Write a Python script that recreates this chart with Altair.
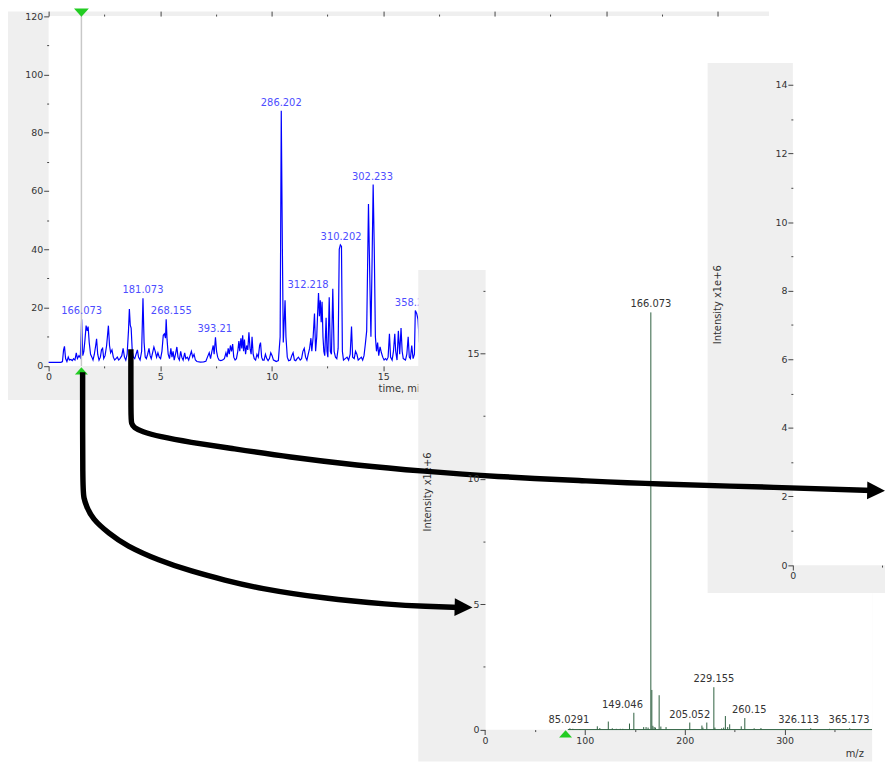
import altair as alt
import pandas as pd

# ---------------- data: chromatogram (top panel) ----------------
chrom_time = [0.0, 0.55, 0.62, 0.67, 0.71, 0.76, 0.82, 0.88, 0.93, 1.0, 1.06, 1.12, 1.18, 1.24, 1.29,
              1.36, 1.42, 1.48, 1.53, 1.58, 1.63, 1.68, 1.73, 1.77, 1.82, 1.88, 1.94, 1.99, 2.05, 2.11,
              2.15, 2.2, 2.26, 2.32, 2.37, 2.42, 2.47, 2.53, 2.6, 2.68, 2.73, 2.78, 2.84, 2.9, 2.96,
              3.02, 3.08, 3.14, 3.2, 3.28, 3.34, 3.4, 3.46, 3.52, 3.58, 3.62, 3.66, 3.7, 3.75, 3.8,
              3.86, 3.92, 3.98, 4.03, 4.1, 4.17, 4.23, 4.28, 4.33, 4.38, 4.44, 4.5, 4.55, 4.6, 4.66,
              4.72, 4.78, 4.84, 4.9, 4.96, 5.02, 5.08, 5.14, 5.19, 5.24, 5.27, 5.31, 5.36, 5.42, 5.48,
              5.53, 5.58, 5.63, 5.7, 5.75, 5.8, 5.86, 5.92, 5.97, 6.03, 6.1, 6.15, 6.22, 6.28, 6.34,
              6.4, 6.46, 6.52, 6.58, 6.65, 6.8, 6.95, 7.05, 7.12, 7.2, 7.26, 7.32, 7.38, 7.42, 7.48,
              7.53, 7.58, 7.64, 7.72, 7.8, 7.88, 7.95, 8.0, 8.05, 8.1, 8.15, 8.2, 8.25, 8.3, 8.36,
              8.42, 8.48, 8.53, 8.57, 8.62, 8.66, 8.7, 8.74, 8.78, 8.83, 8.88, 8.93, 8.98, 9.03, 9.08,
              9.12, 9.17, 9.22, 9.28, 9.34, 9.4, 9.46, 9.5, 9.55, 9.6, 9.66, 9.72, 9.78, 9.84, 9.9,
              9.96, 10.02, 10.08, 10.14, 10.2, 10.3, 10.38, 10.43, 10.48, 10.52, 10.56, 10.6, 10.64, 10.7, 10.76,
              10.84, 10.9, 10.96, 11.02, 11.08, 11.14, 11.2, 11.28, 11.34, 11.4, 11.46, 11.52, 11.58, 11.64, 11.7,
              11.76, 11.8, 11.86, 11.92, 11.97, 12.02, 12.06, 12.1, 12.14, 12.18, 12.22, 12.26, 12.3, 12.34, 12.38,
              12.44, 12.48, 12.52, 12.58, 12.63, 12.68, 12.74, 12.8, 12.86, 12.92, 12.98, 13.03, 13.08, 13.13, 13.17,
              13.22, 13.3, 13.38, 13.45, 13.52, 13.58, 13.63, 13.7, 13.76, 13.82, 13.88, 13.95, 14.02, 14.08, 14.14,
              14.2, 14.26, 14.34, 14.4, 14.45, 14.5, 14.55, 14.6, 14.65, 14.7, 14.75, 14.8, 14.86, 14.92, 14.98,
              15.04, 15.1, 15.16, 15.22, 15.28, 15.33, 15.4, 15.46, 15.52, 15.56, 15.62, 15.68, 15.74, 15.8, 15.85,
              15.9, 16.0, 16.06, 16.12, 16.17, 16.22, 16.28, 16.34, 16.4, 16.44, 16.5, 16.56, 16.62]
chrom_intensity = [1.2, 1.2, 1.5, 5.5, 6.7, 2.5, 1.5, 3.0, 2.0, 2.2, 1.8, 2.5, 2.0, 4.5, 2.5,
                   3.5, 2.8, 16.0, 3.5, 5.0, 9.0, 13.8, 12.0, 13.5, 8.0, 4.0, 3.0, 2.0, 4.0, 7.0,
                   9.3, 4.0, 2.0, 3.0, 5.5, 6.0, 2.5, 3.5, 7.0, 13.8, 7.0, 4.5, 5.5, 3.0, 2.0,
                   2.5, 3.0, 2.0, 2.5, 3.5, 6.0, 3.0, 2.0, 4.0, 12.0, 19.5, 14.0, 13.0, 5.0, 3.0,
                   2.5, 4.0, 5.5, 3.0, 2.0, 5.0, 23.2, 8.0, 3.0, 2.5, 4.0, 6.0, 3.5, 2.5, 4.5,
                   6.5, 5.0, 3.0, 4.5, 3.0, 2.5, 5.0, 10.5, 11.0, 9.5, 16.0, 9.0, 4.0, 2.5, 6.0,
                   3.0, 5.0, 2.0, 4.5, 6.5, 3.0, 2.0, 5.0, 3.0, 2.0, 4.5, 2.5, 3.0, 2.0, 3.5,
                   5.0, 3.0, 4.0, 2.0, 1.5, 1.3, 1.4, 1.6, 3.0, 4.5, 2.5, 5.0, 7.0, 4.0, 9.8,
                   5.0, 3.0, 2.0, 1.8, 2.0, 2.5, 4.5, 3.0, 6.0, 4.0, 7.0, 5.0, 7.5, 3.0, 2.0,
                   2.5, 5.0, 8.5, 5.0, 9.5, 6.0, 10.5, 5.0, 9.0, 4.0, 7.0, 5.5, 11.5, 6.0, 4.0,
                   10.0, 4.0, 2.5, 2.0, 4.0, 3.0, 7.0, 8.0, 3.0, 2.0, 2.0, 4.0, 2.5, 1.8, 2.5,
                   4.5, 3.5, 2.0, 1.8, 1.5, 1.8, 10.0, 87.5, 40.0, 8.0, 15.0, 22.5, 10.0, 3.0, 1.8,
                   2.0, 3.5, 4.5, 2.0, 1.8, 2.5, 3.0, 2.0, 2.5, 5.0, 6.0, 3.0, 2.0, 4.0, 6.0,
                   9.5, 5.0, 10.0, 18.0, 5.0, 10.0, 18.0, 25.0, 17.0, 22.5, 15.0, 22.0, 10.0, 5.0, 3.5,
                   16.5, 5.0, 3.0, 23.5, 5.0, 4.0, 26.5, 5.0, 3.0, 2.5, 6.0, 40.0, 41.5, 41.0, 5.0,
                   2.0, 2.5, 3.0, 2.0, 4.0, 13.5, 3.0, 2.5, 5.0, 4.0, 2.0, 2.5, 3.0, 2.0, 3.5,
                   7.5, 12.0, 55.5, 30.0, 10.0, 35.0, 62.2, 40.0, 10.0, 5.0, 8.0, 3.5, 6.5, 4.5, 3.0,
                   2.0, 2.5, 2.0, 3.0, 11.0, 3.0, 2.0, 5.0, 11.0, 5.0, 2.0, 12.0, 4.0, 13.0, 5.0,
                   2.5, 2.0, 4.0, 10.0, 3.0, 2.5, 7.0, 2.5, 4.0, 19.0, 18.0, 16.0, 8.0]

chrom_label_text = ["166.073", "181.073", "268.155", "393.21", "286.202",
                    "312.218", "310.202", "302.233", "358.217"]
chrom_label_time = [1.48, 4.23, 5.50, 7.45, 10.43, 11.63, 13.11, 14.52, 16.44]
chrom_label_value = [16.0, 23.2, 16.0, 9.8, 87.5, 25.0, 41.5, 62.2, 19.0]
cursor_time = [1.47]

chrom_time_domain = [0, 32.3]
chrom_int_domain = [0, 120]
chrom_time_major = [0, 5, 10, 15]
chrom_time_minor = [2.5, 7.5, 12.5]
chrom_time_top_major = [0, 5, 10, 15, 20, 25, 30]
chrom_time_top_minor = [2.5, 7.5, 12.5, 17.5, 22.5, 27.5]
chrom_int_major = [0, 20, 40, 60, 80, 100, 120]
chrom_int_minor = [10, 30, 50, 70, 90, 110]

# ---------------- data: MS spectrum (middle panel) ----------------
spec_mz = [85.03, 88.0, 95.0, 112.5, 115.0, 123.5, 127.5, 131.5, 135.5, 138.0, 144.7, 149.05,
           158.9, 161.3, 163.3, 166.07, 167.07, 168.1, 169.4, 170.7, 174.4, 176.1, 181.3,
           205.05, 217.2, 218.2, 222.1, 229.16, 230.2, 237.0, 239.0, 240.7, 243.0, 245.0,
           256.6, 260.15, 269.5, 276.3, 326.11, 345.0, 365.17]
spec_intensity = [0.05, 0.03, 0.02, 0.13, 0.06, 0.32, 0.05, 0.03, 0.03, 0.03, 0.24, 0.67,
                  0.10, 0.10, 0.08, 16.64, 1.58, 0.15, 0.10, 0.08, 1.37, 0.12, 0.10,
                  0.28, 0.16, 0.08, 0.28, 1.69, 0.08, 0.05, 0.08, 0.54, 0.10, 0.21,
                  0.13, 0.46, 0.05, 0.06, 0.05, 0.03, 0.05]
spec_baseline_mz = [83.0, 387.5]
spec_label_text = ["85.0291", "149.046", "166.073", "205.052", "229.155", "260.15", "326.113", "365.173"]
spec_label_mz = [84.0, 137.7, 166.1, 205.0, 229.2, 264.6, 314.0, 364.5]
spec_label_value = [0.05, 0.67, 16.64, 0.28, 1.69, 0.46, 0.05, 0.05]
precursor_mz = [80.7]

spec_mz_domain = [0, 387.5]
spec_int_domain = [0, 18.3]
spec_mz_major = [0, 100, 200, 300]
spec_mz_minor = [50, 150, 250, 350]
spec_int_major = [0, 5, 10, 15]
spec_int_minor = [2.5, 7.5, 12.5, 17.5]

# ---------------- right panel (second spectrum, only its axes are visible) ----------------
right_mz_domain = [0, 400]
right_int_domain = [0, 14.64]
right_mz_major = [0]
right_mz_minor = [50]
right_int_major = [0, 2, 4, 6, 8, 10, 12, 14]
right_int_minor = [1, 3, 5, 7, 9, 11, 13]

# ---------------- annotation arrows (page coordinates) ----------------
arrow_a_x = [132, 132, 132.5, 135, 143, 160, 193, 227, 293, 360, 427, 500, 587, 657, 787, 880]
arrow_a_y = [349, 418, 424, 428, 432, 437, 443, 448, 458, 466, 472, 477.5, 481.5, 485, 488.3, 491.5]
arrow_b_x = [83.3, 83.3, 84.5, 87, 93, 110, 127, 160, 193, 227, 260, 327, 393, 430, 462]
arrow_b_y = [372, 490, 499, 507, 520, 535, 547, 562, 573, 582, 590, 600.5, 606.5, 608.5, 609.5]
arrow_head_x = [884, 467.7]
arrow_head_y = [491.5, 609.3]
arrow_head_angle = [1, 1.5]

# ---------------- layout (chart pixel coordinates) ----------------
W, H = 885, 757
FONT = "DejaVu Sans"
GRAY = "#efefef"
GREEN = "#22cc22"
BLUE_LINE = "#0000ff"
BLUE_TEXT = "#4d4dff"
SPEC_GREEN = "#2e6040"
TXT = "#333333"

TOP_X = alt.Scale(domain=chrom_time_domain, range=[41, 768], nice=False, zero=False)
TOP_Y = alt.Scale(domain=chrom_int_domain, range=[357.7, 4.7], nice=False, zero=False)
MID_X = alt.Scale(domain=spec_mz_domain, range=[481.3, 871.9], nice=False, zero=False)
MID_Y = alt.Scale(domain=spec_int_domain, range=[724.7, 261.7], nice=False, zero=False)
RIGHT_X = alt.Scale(domain=right_mz_domain, range=[792, 1512], nice=False, zero=False)
RIGHT_Y = alt.Scale(domain=right_int_domain, range=[558.7, 52], nice=False, zero=False)
PAGE_X = alt.Scale(domain=[0, 893], range=[-8, 885], nice=False, zero=False)
PAGE_Y = alt.Scale(domain=[0, 765], range=[-8, 757], nice=False, zero=False)

one = pd.DataFrame({"k": [0]})


def axis_layer(channel, scale, orient, offset, values, major, labels=True):
    ax = alt.Axis(
        orient=orient, offset=offset, values=values, domain=False, grid=False, title=None,
        labels=labels, tickSize=5 if major else 2, tickColor="#444444", tickWidth=1,
        labelColor=TXT, labelFont=FONT, labelFontSize=9.5, labelPadding=1,
        labelFlush=False, labelOverlap=False, zindex=1,
    )
    enc = alt.X("k:Q", scale=scale, axis=ax) if channel == "x" else alt.Y("k:Q", scale=scale, axis=ax)
    return alt.Chart(one).mark_point(opacity=0).encode(**{channel: enc})


def box(x1, x2, y1, y2, color):
    return alt.Chart(one).mark_rect(color=color).encode(
        x=alt.value(x1), x2=alt.value(x2), y=alt.value(y1), y2=alt.value(y2))


def label(text, x, y, angle=0, align="center"):
    return alt.Chart(one).mark_text(
        text=text, font=FONT, fontSize=10, color=TXT, angle=angle, align=align,
        baseline="middle").encode(x=alt.value(x), y=alt.value(y))


def tri(path, size, color, yoff):
    return dict(shape=path, size=size, filled=True, color=color, opacity=1, yOffset=yoff, strokeWidth=0)


TRI_DOWN = "M -1 -0.55 L 1 -0.55 L 0 0.55 Z"
TRI_UP = "M -1 0.55 L 1 0.55 L 0 -0.55 Z"
NOAX = dict(axis=None)

# ---------------- top panel ----------------
chrom_df = pd.DataFrame({"t": chrom_time, "v": chrom_intensity})
chrom_lab_df = pd.DataFrame({"t": chrom_label_time, "v": chrom_label_value, "txt": chrom_label_text})
cursor_df = pd.DataFrame({"t": cursor_time, "lo": [chrom_int_domain[0]], "hi": [chrom_int_domain[1]]})

top_line = alt.Chart(chrom_df).mark_line(color=BLUE_LINE, strokeWidth=1.2).encode(
    x=alt.X("t:Q", scale=TOP_X, **NOAX), y=alt.Y("v:Q", scale=TOP_Y, **NOAX))
top_cursor = alt.Chart(cursor_df).mark_rule(color="#c8c8c8", strokeWidth=1.5).encode(
    x=alt.X("t:Q", scale=TOP_X, **NOAX), y=alt.Y("lo:Q", scale=TOP_Y, **NOAX), y2="hi:Q")
top_labels = alt.Chart(chrom_lab_df).mark_text(
    font=FONT, fontSize=10, color=BLUE_TEXT, baseline="bottom", dy=-3).encode(
    x=alt.X("t:Q", scale=TOP_X, **NOAX), y=alt.Y("v:Q", scale=TOP_Y, **NOAX), text="txt:N")
top_tri_top = alt.Chart(cursor_df).mark_point(**tri(TRI_DOWN, 225, GREEN, -3.5)).encode(
    x=alt.X("t:Q", scale=TOP_X, **NOAX), y=alt.Y("hi:Q", scale=TOP_Y, **NOAX))
top_tri_bot = alt.Chart(cursor_df).mark_point(**tri(TRI_UP, 170, GREEN, 5)).encode(
    x=alt.X("t:Q", scale=TOP_X, **NOAX), y=alt.Y("lo:Q", scale=TOP_Y, **NOAX))

top_layers = [
    box(0, 768, 0, 392, GRAY),
    box(41, 768, 4.7, 357.7, "white"),
    top_line, top_cursor, top_labels, top_tri_top, top_tri_bot,
    label("time, min", 374, 381, align="left"),
]
top_axes = [
    axis_layer("y", TOP_Y, "left", -41, chrom_int_major, True),
    axis_layer("y", TOP_Y, "left", -41, chrom_int_minor, False, labels=False),
    axis_layer("x", TOP_X, "bottom", 357.7 - H, chrom_time_major, True),
    axis_layer("x", TOP_X, "bottom", 357.7 - H, chrom_time_minor, False, labels=False),
    axis_layer("x", TOP_X, "top", -4.7, chrom_time_top_major, True, labels=False),
    axis_layer("x", TOP_X, "top", -4.7, chrom_time_top_minor, False, labels=False),
]

# ---------------- middle panel ----------------
spec_df = pd.DataFrame({"mz": spec_mz, "i": spec_intensity})
spec_lab_df = pd.DataFrame({"mz": spec_label_mz, "i": spec_label_value, "txt": spec_label_text})
base_df = pd.DataFrame({"a": [spec_baseline_mz[0]], "b": [spec_baseline_mz[1]], "z": [0]})
prec_df = pd.DataFrame({"mz": precursor_mz, "z": [0]})

mid_base = alt.Chart(base_df).mark_rule(color=SPEC_GREEN, strokeWidth=1).encode(
    x=alt.X("a:Q", scale=MID_X, **NOAX), x2="b:Q", y=alt.Y("z:Q", scale=MID_Y, **NOAX))
mid_peaks = alt.Chart(spec_df).mark_rule(color=SPEC_GREEN, strokeWidth=1).encode(
    x=alt.X("mz:Q", scale=MID_X, **NOAX), y=alt.Y("i:Q", scale=MID_Y, **NOAX), y2=alt.datum(0))
mid_labels = alt.Chart(spec_lab_df).mark_text(
    font=FONT, fontSize=10, color=TXT, baseline="bottom", dy=-3).encode(
    x=alt.X("mz:Q", scale=MID_X, **NOAX), y=alt.Y("i:Q", scale=MID_Y, **NOAX), text="txt:N")
mid_prec = alt.Chart(prec_df).mark_point(**tri(TRI_UP, 170, GREEN, 4.3)).encode(
    x=alt.X("mz:Q", scale=MID_X, **NOAX), y=alt.Y("z:Q", scale=MID_Y, **NOAX))

mid_layers = [
    box(414, 872, 261, 757, GRAY),
    box(482, 872, 261, 725, "white"),
    mid_base, mid_peaks, mid_labels, mid_prec,
    label("Intensity x1e+6", 424, 485, angle=270),
    label("m/z", 854.5, 749.3),
]
mid_axes = [
    axis_layer("y", MID_Y, "left", -481.3, spec_int_major, True),
    axis_layer("y", MID_Y, "left", -481.3, spec_int_minor, False, labels=False),
    axis_layer("x", MID_X, "bottom", 724.7 - H, spec_mz_major, True),
    axis_layer("x", MID_X, "bottom", 724.7 - H, spec_mz_minor, False, labels=False),
]

# ---------------- right panel ----------------
right_layers = [
    box(706, 885, 52, 587, GRAY),
    box(792, 885, 52, 559, "white"),
    label("Intensity x1e+6", 716.5, 296, angle=270),
]
right_axes = [
    axis_layer("y", RIGHT_Y, "left", -792, right_int_major, True),
    axis_layer("y", RIGHT_Y, "left", -792, right_int_minor, False, labels=False),
    axis_layer("x", RIGHT_X, "bottom", 558.7 - H, right_mz_major, True),
    axis_layer("x", RIGHT_X, "bottom", 558.7 - H, right_mz_minor, False, labels=False),
]

# ---------------- arrows ----------------
arrow_df = pd.DataFrame({
    "x": arrow_a_x + arrow_b_x,
    "y": arrow_a_y + arrow_b_y,
    "arrow": ["a"] * len(arrow_a_x) + ["b"] * len(arrow_b_x),
    "i": list(range(len(arrow_a_x))) + list(range(len(arrow_b_x))),
})
head_df = pd.DataFrame({"x": arrow_head_x, "y": arrow_head_y, "ang": arrow_head_angle})

arrow_lines = alt.Chart(arrow_df).mark_line(
    color="black", strokeWidth=5.5, interpolate="basis", strokeCap="butt").encode(
    x=alt.X("x:Q", scale=PAGE_X, **NOAX), y=alt.Y("y:Q", scale=PAGE_Y, **NOAX),
    detail="arrow:N", order="i:Q")
arrow_heads = alt.Chart(head_df).mark_point(
    shape="M -1 -1 L 1 0 L -1 1 Z", size=324, filled=True, color="black", opacity=1, strokeWidth=0).encode(
    x=alt.X("x:Q", scale=PAGE_X, **NOAX), y=alt.Y("y:Q", scale=PAGE_Y, **NOAX),
    angle=alt.Angle("ang:Q", scale=None))

all_layers = (top_layers + mid_layers + right_layers + [arrow_lines, arrow_heads]
              + top_axes + mid_axes + right_axes)

chart = alt.layer(*all_layers).resolve_scale(
    x="independent", y="independent"
).properties(
    width=W, height=H, autosize=alt.AutoSizeParams(type="none"), padding=0, background="white",
).configure_view(stroke=None, strokeWidth=0)

chart.save("out.html", embed_options={"renderer": "svg", "actions": False})
